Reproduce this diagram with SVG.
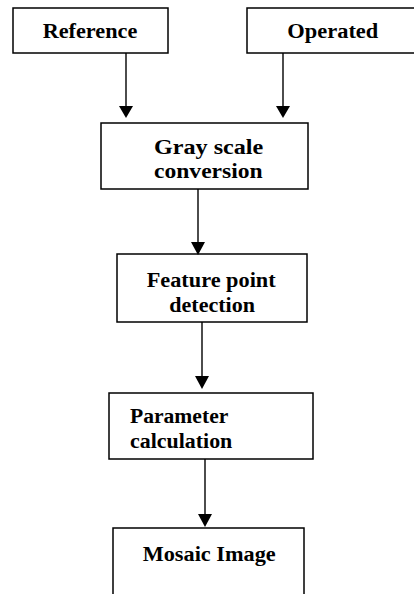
<svg xmlns="http://www.w3.org/2000/svg" width="414" height="594" viewBox="0 0 414 594">
<style>
.box{fill:#fff;stroke:#000;stroke-width:1.5}
.lbl{font-family:"Liberation Serif","Times New Roman",serif;font-weight:bold;font-size:20px;fill:#000}
.conn line{stroke:#000;stroke-width:1.4}
.conn polygon{fill:#000}
</style>
<rect width="414" height="594" fill="#fff"/>
<g id="reference">
<rect class="box" x="13" y="8" width="155" height="45"/>
<text class="lbl" x="42.7" y="37.7" textLength="94.6" lengthAdjust="spacingAndGlyphs">Reference</text>
</g>
<g id="operated">
<rect class="box" x="247" y="8" width="180" height="45"/>
<text class="lbl" x="287.3" y="37.7" textLength="91" lengthAdjust="spacingAndGlyphs">Operated</text>
</g>
<g id="grayscale">
<rect class="box" x="101" y="123" width="207" height="66"/>
<text class="lbl" x="154" y="154.3" textLength="109.3" lengthAdjust="spacingAndGlyphs">Gray scale</text>
<text class="lbl" x="154" y="178.3" textLength="108.7" lengthAdjust="spacingAndGlyphs">conversion</text>
</g>
<g id="feature">
<rect class="box" x="117" y="254" width="190" height="68"/>
<text class="lbl" x="146.7" y="286.7" textLength="129" lengthAdjust="spacingAndGlyphs">Feature point</text>
<text class="lbl" x="169.3" y="312.3" textLength="85.7" lengthAdjust="spacingAndGlyphs">detection</text>
</g>
<g id="parameter">
<rect class="box" x="109" y="393" width="204" height="66"/>
<text class="lbl" x="130" y="422.7" textLength="98.3" lengthAdjust="spacingAndGlyphs">Parameter</text>
<text class="lbl" x="130" y="448.3" textLength="102.3" lengthAdjust="spacingAndGlyphs">calculation</text>
</g>
<g id="mosaic">
<rect class="box" x="113" y="528" width="191" height="80"/>
<text class="lbl" x="142.7" y="561" textLength="133" lengthAdjust="spacingAndGlyphs">Mosaic Image</text>
</g>
<g id="connectors" class="conn">
<line x1="126" y1="53" x2="126" y2="107"/>
<polygon points="119,106 133,106 126,118"/>
<line x1="283" y1="53" x2="283" y2="107"/>
<polygon points="276,106 290,106 283,118"/>
<line x1="198" y1="189" x2="198" y2="243"/>
<polygon points="191,242 205,242 198,255"/>
<line x1="202" y1="322" x2="202" y2="377"/>
<polygon points="195,376 209,376 202,389"/>
<line x1="205" y1="459" x2="205" y2="515"/>
<polygon points="198,514 212,514 205,527"/>
</g>
</svg>
